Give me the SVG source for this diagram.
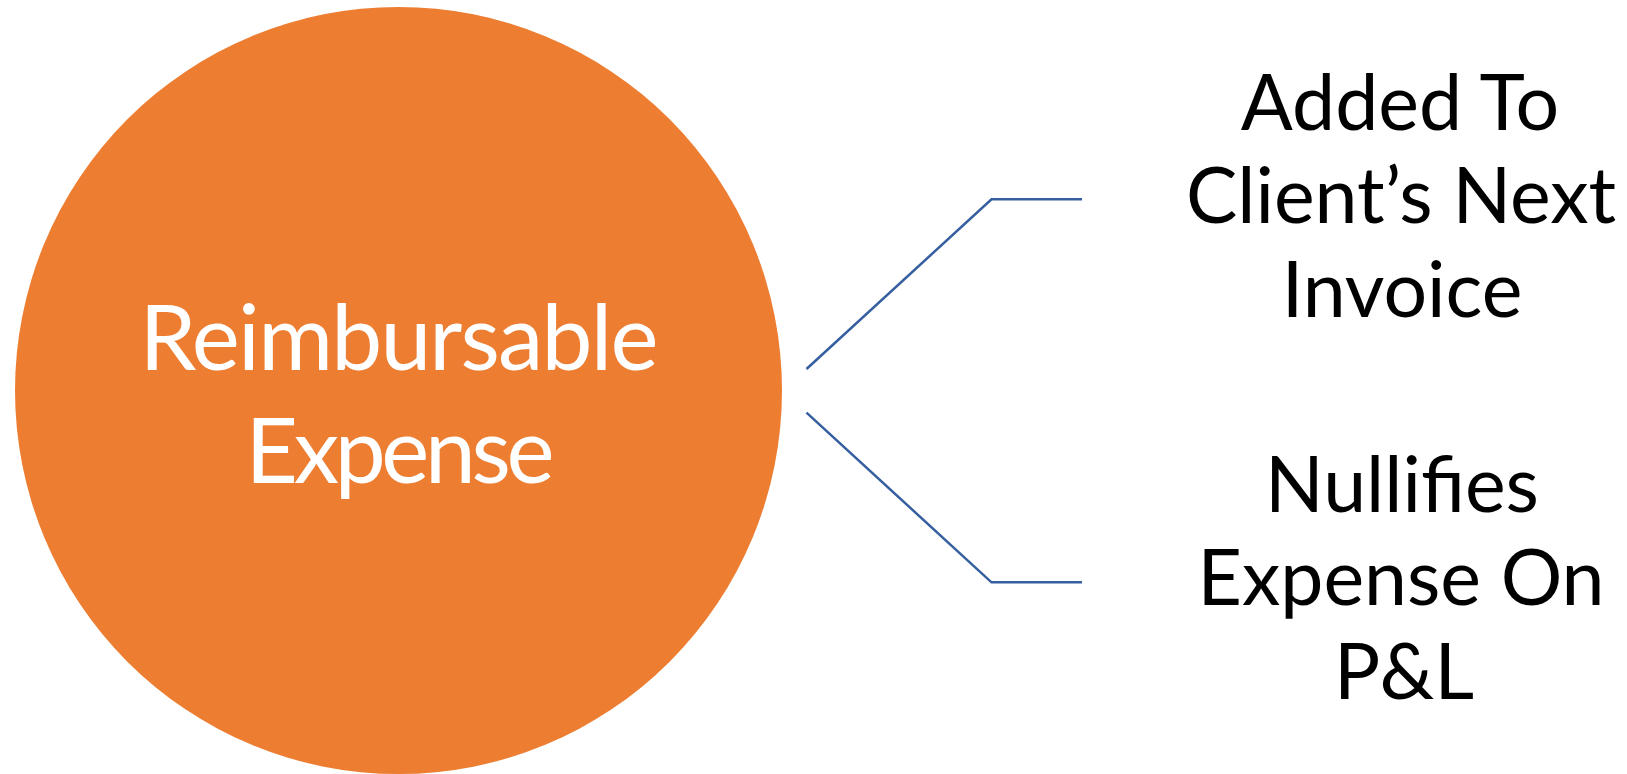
<svg xmlns="http://www.w3.org/2000/svg" width="1627" height="774" viewBox="0 0 1627 774">
  <style>
    .lbl { font-family: Lato, "Open Sans", "Liberation Sans", sans-serif; text-anchor: middle; }
    .main { fill: #FFFFFF; font-size: 91px; }
    .side { fill: #000000; font-size: 77px; }
    .conn { fill: none; stroke: #365F9F; stroke-width: 2.5; }
  </style>
  <rect width="1627" height="774" fill="#FFFFFF"/>
  <g id="node-reimbursable">
    <circle cx="398.5" cy="390.5" r="383.5" fill="#ED7D31"/>
    <text class="lbl main" x="399" y="370" textLength="519">Reimbursable</text>
    <text class="lbl main" x="400" y="483" textLength="309">Expense</text>
  </g>
  <g id="connectors">
    <polyline class="conn" points="806.5,369 991.5,199.3 1082,199.3"/>
    <polyline class="conn" points="806.5,412.7 991.5,582.3 1082,582.3"/>
  </g>
  <g id="node-added">
    <text class="lbl side" x="1400" y="130">Added To</text>
    <text class="lbl side" x="1401" y="223">Client’s Next</text>
    <text class="lbl side" x="1402" y="317">Invoice</text>
  </g>
  <g id="node-nullifies">
    <text class="lbl side" x="1402" y="512">Nullifies</text>
    <text class="lbl side" x="1401" y="605">Expense On</text>
    <text class="lbl side" x="1404" y="699">P&amp;L</text>
  </g>
</svg>
